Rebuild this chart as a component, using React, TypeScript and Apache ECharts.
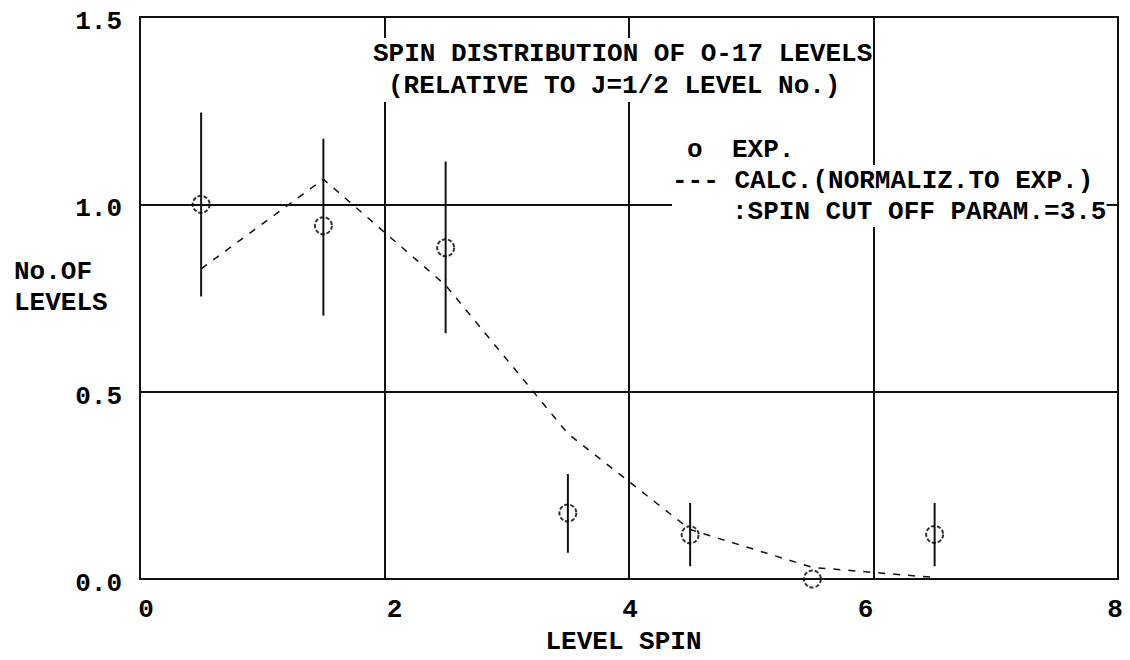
import React, { useEffect, useRef } from "react";
import * as echarts from "echarts";

const spin = [0.5, 1.5, 2.5, 3.5, 4.5, 5.5, 6.5];
const expValues = [1.0, 0.943, 0.884, 0.176, 0.118, 0.0, 0.119];
const errLow = [0.754, 0.703, 0.656, 0.07, 0.034, null, 0.034];
const errHigh = [1.245, 1.175, 1.114, 0.28, 0.203, null, 0.203];
const calcValues = [0.828, 1.067, 0.784, 0.388, 0.132, 0.031, 0.004];
const xTicks = [0, 2, 4, 6, 8];
const yTickLabels = ["0.0", "0.5", "1.0", "1.5"];

const titleLines = ["SPIN DISTRIBUTION OF O-17 LEVELS", "(RELATIVE TO J=1/2 LEVEL No.)"];
const legendExpMark = "o";
const legendExp = "EXP.";
const legendCalc = "--- CALC.(NORMALIZ.TO EXP.)";
const legendParam = ":SPIN CUT OFF PARAM.=3.5";
const yName = "No.OF\nLEVELS";
const xName = "LEVEL SPIN";

const FONT = "'Liberation Mono', 'DejaVu Sans Mono', monospace";
const INK = "#111";

export default function App() {
  const ref = useRef<HTMLDivElement>(null);
  useEffect(() => {
    if (!ref.current) return;
    const chart = echarts.init(ref.current, undefined, { renderer: "svg" });
    const txt = (text: string, x: number, y: number, extra: any = {}) => ({
      type: "text",
      x,
      y,
      z: 100,
      style: {
        text,
        font: `bold 26px ${FONT}`,
        fill: "#000",
        verticalAlign: "top",
        lineHeight: 31,
        ...extra,
      },
    });
    const labelFont = { fontFamily: FONT, fontWeight: "bold", fontSize: 26, color: "#000" };
    const xLabelRich: any = {
      t0: { padding: [0, 0, 0, 12] },
      t2: { padding: [0, 0, 0, 20] },
      t4: { padding: [0, 0, 0, 2] },
      t6: { padding: [0, 16, 0, 0] },
      t8: { padding: [0, 6, 0, 0] },
    };
    Object.keys(xLabelRich).forEach((k) => {
      xLabelRich[k] = { ...xLabelRich[k], ...labelFont };
    });
    const option: any = {
      animation: false,
      backgroundColor: "#fff",
      grid: {
        left: 140,
        top: 17,
        right: 12,
        bottom: 78,
        show: true,
        borderColor: INK,
        borderWidth: 2,
        backgroundColor: "transparent",
      },
      xAxis: {
        type: "value",
        min: 0,
        max: 8,
        interval: 2,
        axisLine: { show: true, lineStyle: { color: INK, width: 2 } },
        axisTick: { show: false },
        splitLine: { show: true, lineStyle: { color: INK, width: 2 } },
        axisLabel: {
          margin: 18,
          formatter: (v: number) => (xTicks.includes(v) ? `{t${v}|${v}}` : ""),
          rich: xLabelRich,
        },
        name: xName,
        nameLocation: "middle",
        nameGap: 50,
        nameTextStyle: { ...labelFont, padding: [0, 11, 0, 0] },
      },
      yAxis: {
        type: "value",
        min: 0,
        max: 1.5,
        interval: 0.5,
        axisLine: { show: true, lineStyle: { color: INK, width: 2 } },
        axisTick: { show: false },
        splitLine: { show: true, lineStyle: { color: INK, width: 2 } },
        axisLabel: {
          margin: 18,
          formatter: (v: number) => {
            const s = yTickLabels[Math.round(v / 0.5)];
            return s ? `{y|${s}}` : "";
          },
          rich: { y: { ...labelFont, padding: [10, 0, 0, 0] } },
        },
      },
      series: [
        {
          type: "line",
          data: spin.map((x, i) => [x, calcValues[i]]),
          symbol: "none",
          lineStyle: { color: INK, width: 1.5, type: [7, 8] },
          z: 3,
        },
        {
          type: "custom",
          data: spin
            .map((x, i) => [x, errLow[i], errHigh[i]])
            .filter((d) => d[1] !== null),
          renderItem: (params: any, api: any) => {
            const x = api.value(0);
            const p1 = api.coord([x, api.value(1)]);
            const p2 = api.coord([x, api.value(2)]);
            return {
              type: "line",
              shape: { x1: p1[0], y1: p1[1], x2: p2[0], y2: p2[1] },
              style: { stroke: INK, lineWidth: 2 },
            };
          },
          z: 4,
        },
        {
          type: "scatter",
          data: spin.map((x, i) => [x, expValues[i]]),
          symbol: "circle",
          symbolSize: 17,
          itemStyle: {
            color: "rgba(0,0,0,0)",
            borderColor: "#000",
            borderWidth: 2,
            borderType: [4, 2],
          },
          z: 5,
        },
      ],
      graphic: [
        txt(titleLines[0], 373, 38, { lineHeight: 32, backgroundColor: "#fff" }),
        txt(titleLines[1], 373, 70, { lineHeight: 32, backgroundColor: "#fff", padding: [0, 0, 0, 15] }),
        txt(legendExpMark, 687, 134),
        txt(legendExp, 732, 134),
        txt(legendCalc, 672, 165, { backgroundColor: "#fff" }),
        txt(legendParam, 672, 196, { backgroundColor: "#fff", padding: [0, 0, 0, 60] }),
        txt(yName, 14, 256),
      ],
    };
    chart.setOption(option);
    return () => chart.dispose();
  }, []);
  return (
    <div
      ref={ref}
      style={{ position: "absolute", left: 0, top: 0, width: 1130, height: 660, background: "#fff" }}
    />
  );
}
